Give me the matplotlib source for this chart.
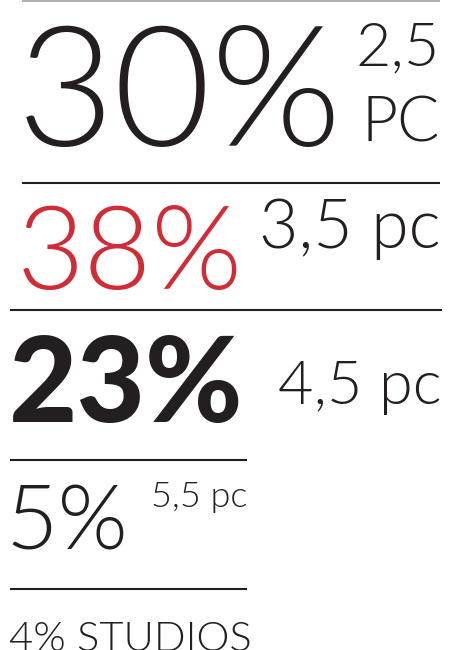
import matplotlib
matplotlib.use("Agg")
import matplotlib.pyplot as plt

# share of each apartment type
percent = [30, 38, 23, 5, 4]
rooms = ["2,5", "3,5", "4,5", "5,5"]
unit = "pc"
last_label = "STUDIOS"

INK = "#231f20"
RED = "#d12b36"
FONT = ["Lato", "DejaVu Sans"]

fig = plt.figure(figsize=(4.49, 6.5), dpi=100)
ax = fig.add_axes([0, 0, 1, 1])
ax.set_xlim(0, 449)
ax.set_ylim(650, 0)
ax.axis("off")


def txt(x, y, s, size, ha="left", color=INK, weight=300):
    ax.text(x, y, s, fontsize=size, ha=ha, va="baseline", color=color,
            family=FONT, fontweight=weight)


# rules between the rows
ax.hlines(0.7, 22, 440, color="#a3a3a3", lw=1.2)
ax.hlines(183, 22, 440, color=INK, lw=1.5)
ax.hlines(310, 10, 442, color=INK, lw=1.5)
ax.hlines(460, 10, 247, color=INK, lw=1.5)
ax.hlines(589, 10, 247, color=INK, lw=1.5)

# row 1
txt(17, 146, f"{percent[0]}%", 121)
txt(440, 65, rooms[0], 44, ha="right")
txt(440, 142, unit.upper(), 45, ha="right")

# row 2 (highlighted)
txt(17, 289, f"{percent[1]}%", 84, color=RED)
txt(441, 248, f"{rooms[1]} {unit}", 49, ha="right")

# row 3 (bold)
txt(9, 422, f"{percent[2]}%", 85, weight=900)
txt(442, 404, f"{rooms[2]} {unit}", 44, ha="right")

# row 4
txt(5, 550, f"{percent[3]}%", 65)
txt(247, 507, f"{rooms[3]} {unit}", 26, ha="right")

# row 5 (cut by the bottom edge, as in the original)
txt(9, 651, f"{percent[4]}% {last_label}", 30)

fig.savefig("out.png", dpi=100)
